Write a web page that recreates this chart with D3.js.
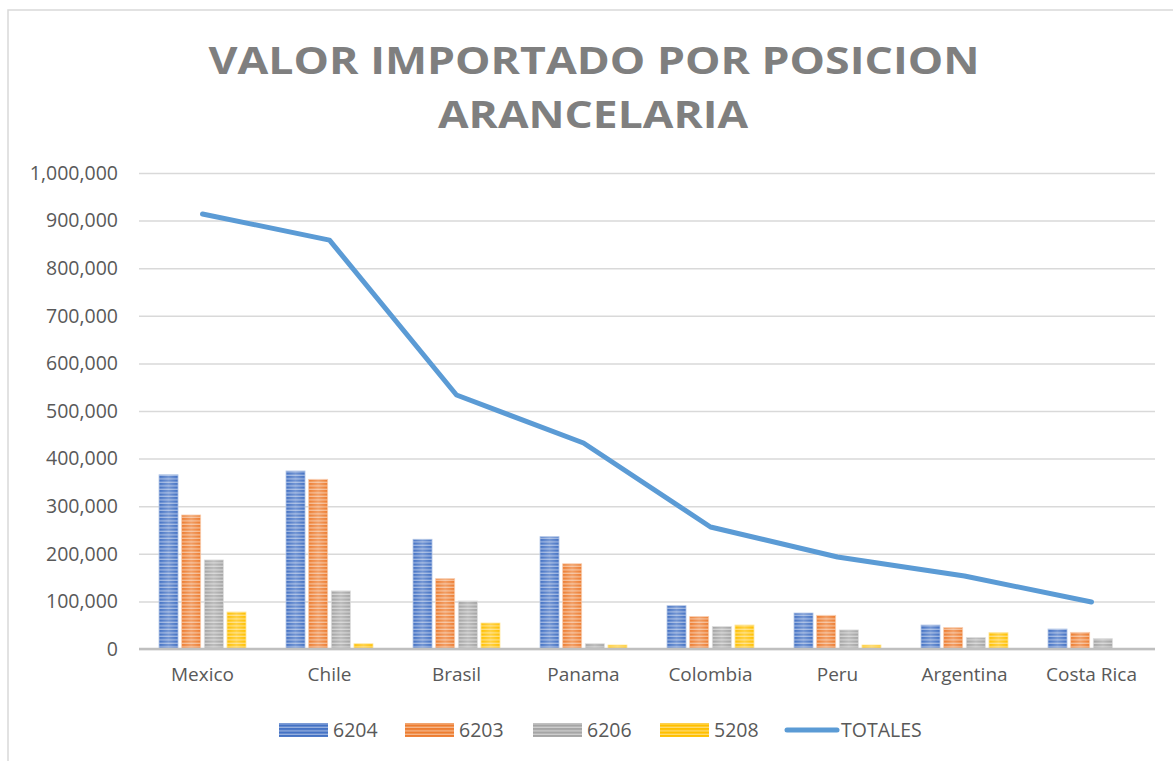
<!DOCTYPE html>
<html lang="es">
<head>
<meta charset="UTF-8">
<title>Valor importado por posicion arancelaria</title>
<script src="https://cdnjs.cloudflare.com/ajax/libs/d3/7.8.5/d3.min.js"></script>
<style>
  body { margin: 0; background: #fff; }
  svg text { font-family: "Open Sans", "Noto Sans", sans-serif; }
</style>
</head>
<body>
<svg id="chart" width="1173" height="761"></svg>
<script>
// data
const paises = ['Mexico', 'Chile', 'Brasil', 'Panama', 'Colombia', 'Peru', 'Argentina', 'Costa Rica'];
const series = ['6204', '6203', '6206', '5208'];
const v6204 = [366000, 374000, 230500, 236000, 91000, 75600, 50400, 42000];
const v6203 = [281500, 356500, 147700, 179000, 68000, 70800, 44800, 35000];
const v6206 = [187000, 122000, 100800, 11000, 47000, 40000, 23800, 21600];
const v5208 = [77700, 11000, 54600, 8400, 50400, 8400, 34300, 0];
const totales = [914000, 859000, 533600, 432800, 256300, 193300, 153400, 98700];
const yTicks = [0, 100000, 200000, 300000, 400000, 500000, 600000, 700000, 800000, 900000, 1000000];

const values = [v6204, v6203, v6206, v5208];
const colors = ['#4472C4', '#ED7D31', '#A5A5A5', '#FFC000'];
const lineColor = '#5B9BD5';

const svg = d3.select('#chart');
const plotLeft = 139, plotRight = 1155, plotTop = 173, plotBottom = 649;

// chart border
svg.append('rect')
  .attr('x', 8).attr('y', 10).attr('width', 1180).attr('height', 780)
  .attr('fill', 'none').attr('stroke', '#D9D9D9').attr('stroke-width', 1.5);

// striped fills
const defs = svg.append('defs');
colors.forEach((c, i) => {
  const p = defs.append('pattern')
    .attr('id', 'stripe' + i)
    .attr('patternUnits', 'userSpaceOnUse')
    .attr('width', 6).attr('height', 3.5);
  p.append('rect').attr('width', 6).attr('height', 3.5).attr('fill', c);
  p.append('rect').attr('y', 2.2).attr('width', 6).attr('height', 1.3)
    .attr('fill', d3.interpolateRgb(c, '#fff')(0.45));
});
const glow = defs.append('linearGradient').attr('id', 'glow')
  .attr('x1', 0).attr('x2', 1).attr('y1', 0).attr('y2', 0);
glow.append('stop').attr('offset', '0%').attr('stop-color', '#fff').attr('stop-opacity', 0);
glow.append('stop').attr('offset', '50%').attr('stop-color', '#fff').attr('stop-opacity', 0.25);
glow.append('stop').attr('offset', '100%').attr('stop-color', '#fff').attr('stop-opacity', 0);

const x = d3.scaleBand().domain(paises).range([plotLeft, plotRight])
  .paddingInner(0.315).paddingOuter(0.1575);
const xs = d3.scaleBand().domain(series).range([0, x.bandwidth()]).paddingInner(0.16);
const y = d3.scaleLinear().domain([0, 1000000]).range([plotBottom, plotTop]);

// title
const title = svg.append('g').attr('fill', '#7F7F7F').attr('font-weight', 700)
  .attr('font-size', 38).attr('text-anchor', 'middle');
title.append('text').attr('x', 594).attr('y', 74)
  .attr('textLength', 771).attr('lengthAdjust', 'spacingAndGlyphs')
  .text('VALOR IMPORTADO POR POSICION');
title.append('text').attr('x', 593).attr('y', 128)
  .attr('textLength', 310).attr('lengthAdjust', 'spacingAndGlyphs')
  .text('ARANCELARIA');

// y axis with gridlines
const yAxis = svg.append('g')
  .attr('transform', `translate(${plotLeft},0)`)
  .call(d3.axisLeft(y).tickValues(yTicks).tickFormat(d3.format(',')).tickSize(-(plotRight - plotLeft)).tickPadding(21));
yAxis.select('.domain').remove();
yAxis.selectAll('.tick line').attr('stroke', '#D9D9D9').attr('stroke-width', 1.5);
yAxis.selectAll('.tick text').attr('fill', '#595959').attr('font-size', 19.5);

// bars
const groups = svg.append('g').selectAll('g')
  .data(paises).join('g')
  .attr('transform', d => `translate(${x(d)},0)`);
series.forEach((s, si) => {
  groups.append('rect')
    .attr('x', xs(s))
    .attr('y', (d, i) => y(values[si][i]))
    .attr('width', xs.bandwidth())
    .attr('height', (d, i) => plotBottom - y(values[si][i]))
    .attr('fill', `url(#stripe${si})`)
    .attr('stroke', (d, i) => values[si][i] > 0 ? d3.interpolateRgb(colors[si], '#fff')(0.6) : 'none')
    .attr('stroke-width', 0.8);
  groups.append('rect')
    .attr('x', xs(s))
    .attr('y', (d, i) => y(values[si][i]))
    .attr('width', xs.bandwidth())
    .attr('height', (d, i) => plotBottom - y(values[si][i]))
    .attr('fill', 'url(#glow)');
});

// zero line + category labels
const xAxis = svg.append('g')
  .attr('transform', `translate(0,${plotBottom})`)
  .call(d3.axisBottom(x).tickSize(0).tickPadding(19));
xAxis.select('.domain').attr('stroke', '#BFBFBF').attr('stroke-width', 2.5)
  .attr('d', `M${plotLeft},0H${plotRight}`);
xAxis.selectAll('.tick text').attr('fill', '#595959').attr('font-size', 19);

// totals line
svg.append('path')
  .datum(totales)
  .attr('fill', 'none')
  .attr('stroke', lineColor)
  .attr('stroke-width', 5)
  .attr('stroke-linecap', 'round')
  .attr('stroke-linejoin', 'round')
  .attr('d', d3.line().x((d, i) => x(paises[i]) + x.bandwidth() / 2).y(d => y(d)));

// legend
const legend = svg.append('g').attr('font-size', 19.5).attr('fill', '#595959');
const legendX = [279, 405, 533, 660];
series.forEach((s, i) => {
  legend.append('rect').attr('x', legendX[i]).attr('y', 723).attr('width', 49).attr('height', 14)
    .attr('fill', `url(#stripe${i})`);
  legend.append('text').attr('x', legendX[i] + 54).attr('y', 737).text(s);
});
legend.append('line').attr('x1', 787).attr('x2', 837).attr('y1', 730).attr('y2', 730)
  .attr('stroke', lineColor).attr('stroke-width', 5).attr('stroke-linecap', 'round');
legend.append('text').attr('x', 841).attr('y', 737).text('TOTALES');
</script>
</body>
</html>
